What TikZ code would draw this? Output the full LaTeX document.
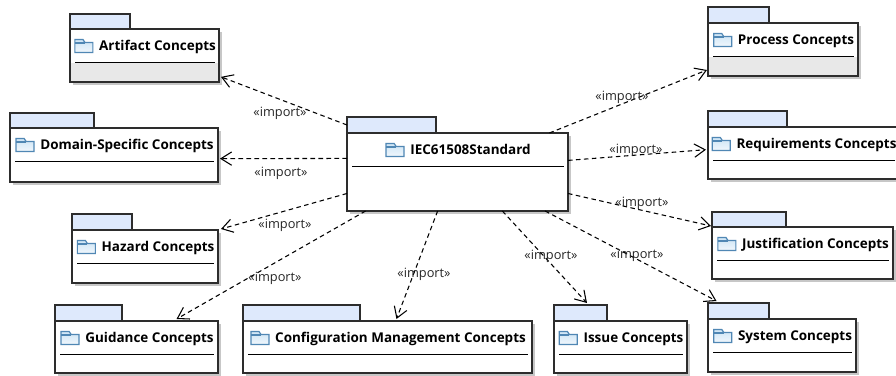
\documentclass[tikz,border=0pt]{standalone}
\usepackage{fontspec}
\setmainfont{Open Sans}
\usetikzlibrary{arrows.meta, shadows, calc}

\definecolor{tabblue}{RGB}{222,233,252}
\definecolor{iconblue}{RGB}{80,135,180}
\definecolor{iconfill}{RGB}{205,228,245}
\definecolor{lowergray}{RGB}{232,232,232}
\definecolor{pkgline}{RGB}{45,45,45}

% name, left, top, right, bottom, tab right, tab top, title, lower colour
\newcommand{\umlpackage}[9]{
    \node[pkgtab, minimum width={(#6-#2)*0.75pt}, minimum height={(#3-#7)*0.75pt}] (#1tab) at ({(#2+#6)/2}, {(#3+#7)/2}) {};
    \node[pkgbody, minimum width={(#4-#2)*0.75pt}, minimum height={(#5-#3)*0.75pt}] (#1) at ({(#2+#4)/2}, {(#3+#5)/2}) {};
    \fill[#9] (#2+1, #3+33.5) rectangle (#4-1, #5-1);
    \draw[pkgrule] (#2+5, #3+33.5) -- (#4-4, #3+33.5);
    \node[pkgtitle] (#1title) at ({(#2+#4)/2+13}, #3+18.2) {#8};
    \pic at ([yshift=0.6pt]#1title.west) {foldericon};
}

\begin{document}
\begin{tikzpicture}[
    x=0.75pt, y=-0.75pt,
    pkgtab/.style={rectangle, draw=pkgline, fill=tabblue, line width=1pt, inner sep=0pt, outer sep=0pt},
    pkgbody/.style={rectangle, draw=pkgline, fill=white, line width=1.1pt, inner sep=0pt, outer sep=0pt,
        drop shadow={shadow xshift=2.4pt, shadow yshift=-2.4pt, fill=black, opacity=0.22}},
    pkgrule/.style={black, line width=0.9pt},
    pkgtitle/.style={font=\fontsize{10.1pt}{12pt}\selectfont\bfseries, inner sep=0pt, text height=7.2pt, text depth=2pt},
    importlabel/.style={font=\fontsize{9.6pt}{11pt}\selectfont, text=black!85, inner sep=0pt},
    dep/.style={-{Straight Barb[length=8pt, width=10pt]}, dash pattern=on 3.4pt off 2.6pt, line width=0.8pt},
    foldericon/.pic={
        \draw[iconblue, top color=iconfill, bottom color=iconfill!30, line width=0.9pt] (-24,-7) -- (-24,6) -- (-6,6) -- (-6,-4) -- (-14,-4) -- (-16,-7) -- cycle;
        \draw[iconblue, line width=0.9pt] (-24,-3.5) -- (-14,-3.5);
    },
]
\useasboundingbox (0,0) rectangle (896,375);

% Packages
\umlpackage{iec}{347}{133}{568}{211}{436}{117}{IEC61508Standard}{white}
\umlpackage{artifact}{70}{29}{219}{82}{130}{14}{Artifact Concepts}{lowergray}
\umlpackage{domain}{10}{128}{218}{182}{94}{113}{Domain-Specific Concepts}{white}
\umlpackage{hazard}{72}{230}{218}{283}{132}{214}{Hazard Concepts}{white}
\umlpackage{guidance}{55}{321}{218}{373}{122}{305}{Guidance Concepts}{white}
\umlpackage{config}{243}{321}{532}{373}{360}{305}{Configuration Management Concepts}{white}
\umlpackage{issue}{554}{321}{687}{373}{607}{305}{Issue Concepts}{white}
\umlpackage{system}{708}{319}{856}{372}{769}{303}{System Concepts}{white}
\umlpackage{justification}{712}{227}{893}{279}{786}{212}{Justification Concepts}{white}
\umlpackage{requirements}{708}{127}{899}{179}{787}{111}{Requirements Concepts}{white}
\umlpackage{process}{708}{23}{858}{76}{769}{7}{Process Concepts}{lowergray}

% Imports
\draw[dep] (iectab.west) -- ([shift={(2,0)}]artifact.344.6);
\draw[dep] (iec.173.3) -- ([shift={(2,0)}]domain.-2.2);
\draw[dep] (iec.191.8) -- ([shift={(3,-1)}]hazard.north east);
\draw[dep] (iec.203.3) -- ([shift={(0,-2)}]guidance.33.4);
\draw[dep] (iec.243.4) -- ([shift={(0,-2)}]config.71);
\draw[dep] (iec.319.4) -- ([shift={(0,-2)}]issuetab.51);
\draw[dep] (iec.336.9) -- ([shift={(0,-2)}]systemtab.160.4);
\draw[dep] (iec.349.7) -- ([shift={(-1,-1)}]justificationtab.south west);
\draw[dep] (iec.6.7) -- ([shift={(-2,0)}]requirements.178.2);
\draw[dep] (iec.23.8) -- ([shift={(-1,-1)}]process.196);

% Labels
\node[importlabel] (l1) at (280,113) {«import»};
\node[importlabel] (l2) at (281,173) {«import»};
\node[importlabel] (l3) at (285,225) {«import»};
\node[importlabel] (l4) at (275,278) {«import»};
\node[importlabel] (l5) at (424,274) {«import»};
\node[importlabel] (l6) at (551,256) {«import»};
\node[importlabel] (l7) at (637,255) {«import»};
\node[importlabel] (l8) at (642,203) {«import»};
\node[importlabel] (l9) at (636,150) {«import»};
\node[importlabel] (l10) at (622,97) {«import»};

\end{tikzpicture}
\end{document}
